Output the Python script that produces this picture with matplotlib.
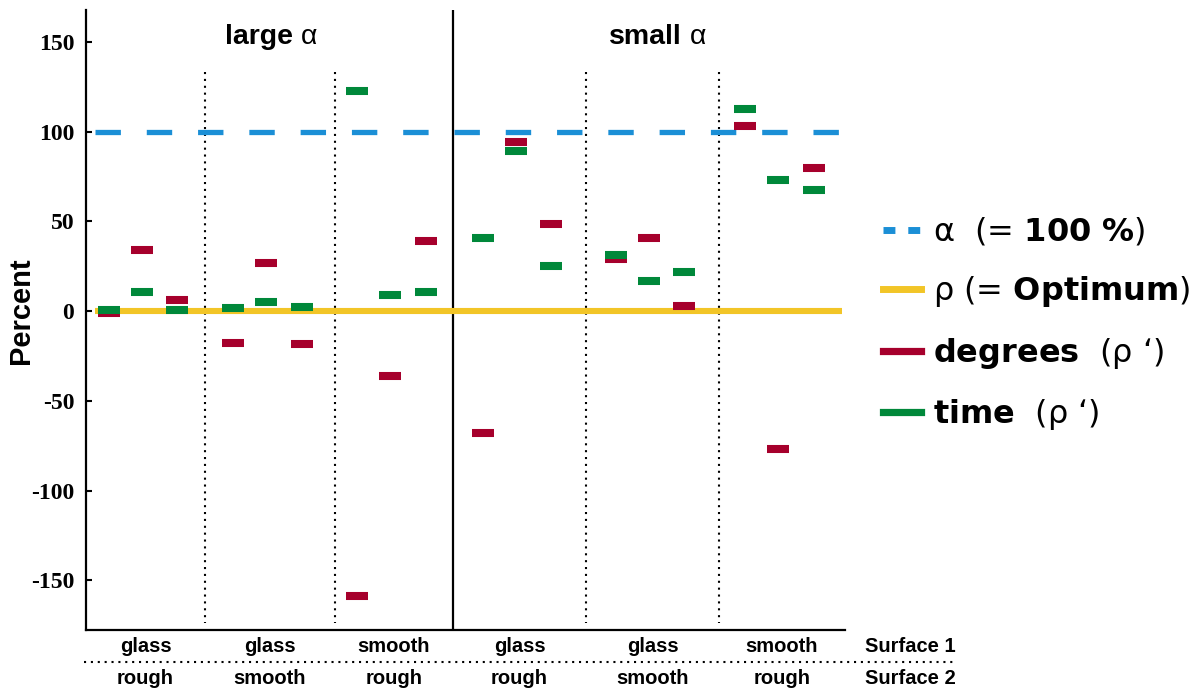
import numpy as np
import matplotlib
matplotlib.use('Agg')
import matplotlib.pyplot as plt
from matplotlib.lines import Line2D

plt.rcParams['font.family'] = ['Liberation Sans', 'DejaVu Sans']
plt.rcParams['axes.unicode_minus'] = False
plt.rcParams['mathtext.fontset'] = 'dejavusans'

sections = ['large', 'small']
surface1 = ['glass', 'glass', 'smooth', 'glass', 'glass', 'smooth']
surface2 = ['rough', 'smooth', 'rough', 'rough', 'smooth', 'rough']
# three measurements per surface pair (large alpha groups first)
degrees = [[-1, 34, 6], [-18, 27, -18.6], [-158.8, -36, 38.8],
           [-68, 94, 48.3], [29, 40.7, 2.6], [103.2, -76.9, 79.8]]
time = [[0.5, 10.4, 0.7], [2, 5.2, 2.4], [122.6, 8.9, 10.4],
        [40.5, 89.3, 25.2], [31, 16.7, 21.6], [112.7, 73, 67.4]]
alpha_level = 100
rho_level = 0
yticks = [150, 100, 50, 0, -50, -100, -150]

red = '#A6002C'
green = '#00883A'
blue = '#1B8FD6'
yellow = '#F2C527'

W, H = 1204, 689
fig = plt.figure(figsize=(W / 100, H / 100), dpi=100)
ax = fig.add_axes([86 / W, 1 - 630 / H, (845 - 86) / W, (630 - 10) / H])

# group edges (x units), solid line between the two sections
edges = [0, 0.941, 1.968, 2.901, 3.953, 5.004, 6.0]
centers = [(edges[i] + edges[i + 1]) / 2 for i in range(6)]
offsets = [-0.29, -0.03, 0.25]

ax.set_xlim(0, 6)
ax.set_ylim(-177.7, 167.8)

ax.plot([0.07, 5.98], [alpha_level] * 2, color=blue, lw=3.8,
        dashes=(25.5 / 5.3, 26 / 5.3), solid_capstyle='butt', zorder=2)
ax.plot([0.07, 5.98], [rho_level] * 2, color=yellow, lw=4.4,
        solid_capstyle='butt', zorder=2)

for i in range(6):
    xs = [centers[i] + o for o in offsets]
    ax.plot(xs, degrees[i], ls='none', marker='_', ms=16, mew=5.8,
            color=red, zorder=3)
    ax.plot(xs, time[i], ls='none', marker='_', ms=16, mew=5.8,
            color=green, zorder=4)

for k in [1, 2, 4, 5]:
    ax.plot([edges[k]] * 2, [133, -174], color='black', lw=1.5,
            ls=(0, (1, 2.3)), zorder=1)
ax.axvline(edges[3], color='black', lw=1.6, zorder=1)

for s in ['top', 'right']:
    ax.spines[s].set_visible(False)
for s in ['left', 'bottom']:
    ax.spines[s].set_linewidth(1.6)

ax.set_xticks([])
ax.set_yticks(yticks)
ax.set_yticklabels([str(v) for v in yticks], family='Liberation Serif',
                   weight='bold', fontsize=17)
ax.tick_params(axis='y', direction='in', length=4.5, width=1.5, pad=8.5)
fig.text(21 / W, 1 - 311 / H, 'Percent', rotation=90, ha='center',
         va='center', fontsize=21, weight='bold')

# section headers
for j, name in enumerate(sections):
    xc = (edges[3 * j] + edges[3 * j + 3]) / 2
    t = ax.text(xc - 0.08 + 0.05 * j, 153, name, ha='center', va='center',
                fontsize=20.5, weight='bold')
    ax.annotate(' α', xy=(1, 0), xycoords=t, ha='left', va='bottom',
                fontsize=20.5)

# surface labels
tr = ax.get_xaxis_transform()
for i in range(6):
    ax.text(centers[i], -16 / 620, surface1[i], transform=tr, ha='center',
            va='center', fontsize=14.5, weight='bold', clip_on=False)
    ax.text(centers[i], -48 / 620, surface2[i], transform=tr, ha='center',
            va='center', fontsize=14.5, weight='bold', clip_on=False)
fig.text(865 / W, 1 - 646 / H, 'Surface 1', ha='left', va='center',
         fontsize=14.5, weight='bold')
fig.text(865 / W, 1 - 678 / H, 'Surface 2', ha='left', va='center',
         fontsize=14.5, weight='bold')
fig.add_artist(Line2D([84 / W, 957 / W], [1 - 662 / H] * 2,
                      transform=fig.transFigure, color='black', lw=1.5,
                      ls=(0, (1, 2.3))))

handles = [
    Line2D([], [], color=blue, lw=5, dashes=(12 / 7, 13 / 7)),
    Line2D([], [], color=yellow, lw=5),
    Line2D([], [], color=red, lw=5.2),
    Line2D([], [], color=green, lw=5.2),
]
labels = [
    r'α  (= $\mathbf{100\ \%}$)',
    r'ρ (= $\mathbf{Optimum}$)',
    r'$\mathbf{degrees}$  (ρ ‘)',
    r'$\mathbf{time}$  (ρ ‘)',
]
fig.legend(handles, labels, loc='center left',
           bbox_to_anchor=(883 / W, 1 - 324 / H), frameon=False,
           prop={'family': 'DejaVu Sans', 'size': 23}, handlelength=1.2,
           handletextpad=0.35, labelspacing=0.83, borderpad=0,
           borderaxespad=0)

fig.savefig('out.png', dpi=100)
